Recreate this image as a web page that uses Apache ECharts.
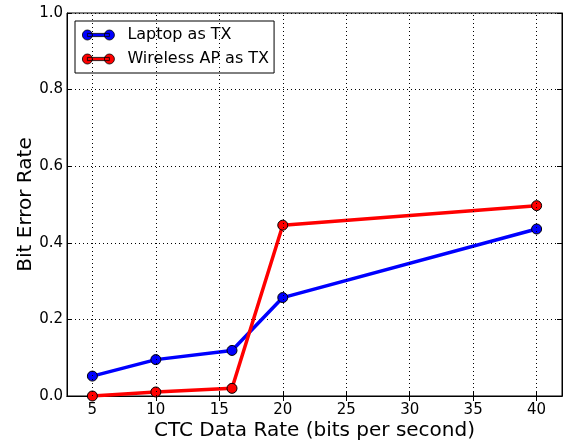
<!DOCTYPE html>
<html><head><meta charset="utf-8">
<script src="https://cdn.jsdelivr.net/npm/echarts@6/dist/echarts.min.js"></script>
<style>html,body{margin:0;padding:0;background:#fff}#c{width:570px;height:442px}</style>
</head><body><div id="c"></div>
<script>
const xValues = [5, 10, 16, 20, 40];
const laptopBER = [0.052, 0.095, 0.119, 0.257, 0.436];
const apBER = [0.0, 0.0105, 0.020, 0.446, 0.497];
const xTicks = [5, 10, 15, 20, 25, 30, 35, 40];
const seriesNames = ['Laptop as TX', 'Wireless AP as TX'];

const FONT = 'DejaVu Sans';
const gridLine = {show: true, lineStyle: {color: '#000', type: [1, 3], width: 1}};
const chart = echarts.init(document.getElementById('c'));
const iconPath = 'path://M0,5A5,5 0 1,1 10,5A5,5 0 1,1 0,5ZM5,3.4H27V6.6H5ZM22,5A5,5 0 1,1 32,5A5,5 0 1,1 22,5Z';
chart.setOption({
  animation: false,
  backgroundColor: '#fff',
  textStyle: {fontFamily: FONT},
  grid: {left: 67, top: 13, right: 8, bottom: 46, show: true, borderColor: '#000', borderWidth: 1, containLabel: false, outerBoundsMode: 'none'},
  legend: {
    orient: 'vertical', left: 75, top: 21,
    backgroundColor: '#fff', borderColor: '#000', borderWidth: 1, borderRadius: 0,
    padding: [6, 5, 6, 7], itemGap: 8, itemWidth: 32, itemHeight: 10,
    textStyle: {fontFamily: FONT, fontSize: 16, color: '#000', padding: [0, 0, 0, 8]},
    data: seriesNames.map(n => ({name: n, icon: iconPath, itemStyle: {borderColor: '#000', borderWidth: 0.8}}))
  },
  xAxis: [{
    type: 'value', min: 3, max: 42, position: 'bottom',
    name: 'CTC Data Rate (bits per second)', nameLocation: 'middle', nameGap: 25, nameMoveOverlap: false,
    nameTextStyle: {fontFamily: FONT, fontSize: 20, color: '#000'},
    axisLine: {show: true, lineStyle: {color: '#000'}},
    axisTick: {show: true, inside: true, length: 5, lineStyle: {color: '#000'}, customValues: xTicks},
    axisLabel: {fontFamily: FONT, fontSize: 15, color: '#000', margin: 7, customValues: xTicks},
    splitLine: {show: false}
  }, {
    type: 'value', min: 3, max: 42, position: 'top',
    axisLine: {show: true, lineStyle: {color: '#000'}},
    axisTick: {show: true, inside: true, length: 5, lineStyle: {color: '#000'}, customValues: xTicks},
    axisLabel: {show: false, customValues: xTicks},
    splitLine: {show: false}
  }],
  yAxis: [{
    type: 'value', min: 0, max: 1, interval: 0.2, position: 'left',
    name: 'Bit Error Rate', nameLocation: 'middle', nameGap: 31, nameMoveOverlap: false,
    nameTextStyle: {fontFamily: FONT, fontSize: 20, color: '#000'},
    axisLine: {show: true, lineStyle: {color: '#000'}},
    axisTick: {show: true, inside: true, length: 5, lineStyle: {color: '#000'}},
    axisLabel: {fontFamily: FONT, fontSize: 15, color: '#000', margin: 4, formatter: v => v.toFixed(1)},
    splitLine: gridLine
  }, {
    type: 'value', min: 0, max: 1, interval: 0.2, position: 'right',
    axisLine: {show: true, lineStyle: {color: '#000'}},
    axisTick: {show: true, inside: true, length: 5, lineStyle: {color: '#000'}},
    axisLabel: {show: false},
    splitLine: {show: false}
  }],
  series: [
    {
      name: seriesNames[0], type: 'line', xAxisIndex: 0, yAxisIndex: 0,
      data: xValues.map((x, i) => [x, laptopBER[i]]),
      symbol: 'circle', symbolSize: 10, color: '#0000ff',
      lineStyle: {color: '#0000ff', width: 3.5},
      itemStyle: {color: '#0000ff', borderColor: '#000', borderWidth: 1},
      z: 3
    },
    {
      name: seriesNames[1], type: 'line', xAxisIndex: 0, yAxisIndex: 0,
      data: xValues.map((x, i) => [x, apBER[i]]),
      symbol: 'circle', symbolSize: 10, color: '#ff0000',
      lineStyle: {color: '#ff0000', width: 3.5},
      itemStyle: {color: '#ff0000', borderColor: '#000', borderWidth: 1},
      z: 4
    },
    {
      type: 'line', xAxisIndex: 0, yAxisIndex: 0, data: [], silent: true,
      markLine: {
        silent: true, symbol: 'none', label: {show: false},
        lineStyle: {color: '#000', type: [1, 3], width: 1},
        data: xTicks.map(v => ({xAxis: v}))
      },
      z: 1
    }
  ]
});
</script></body></html>
